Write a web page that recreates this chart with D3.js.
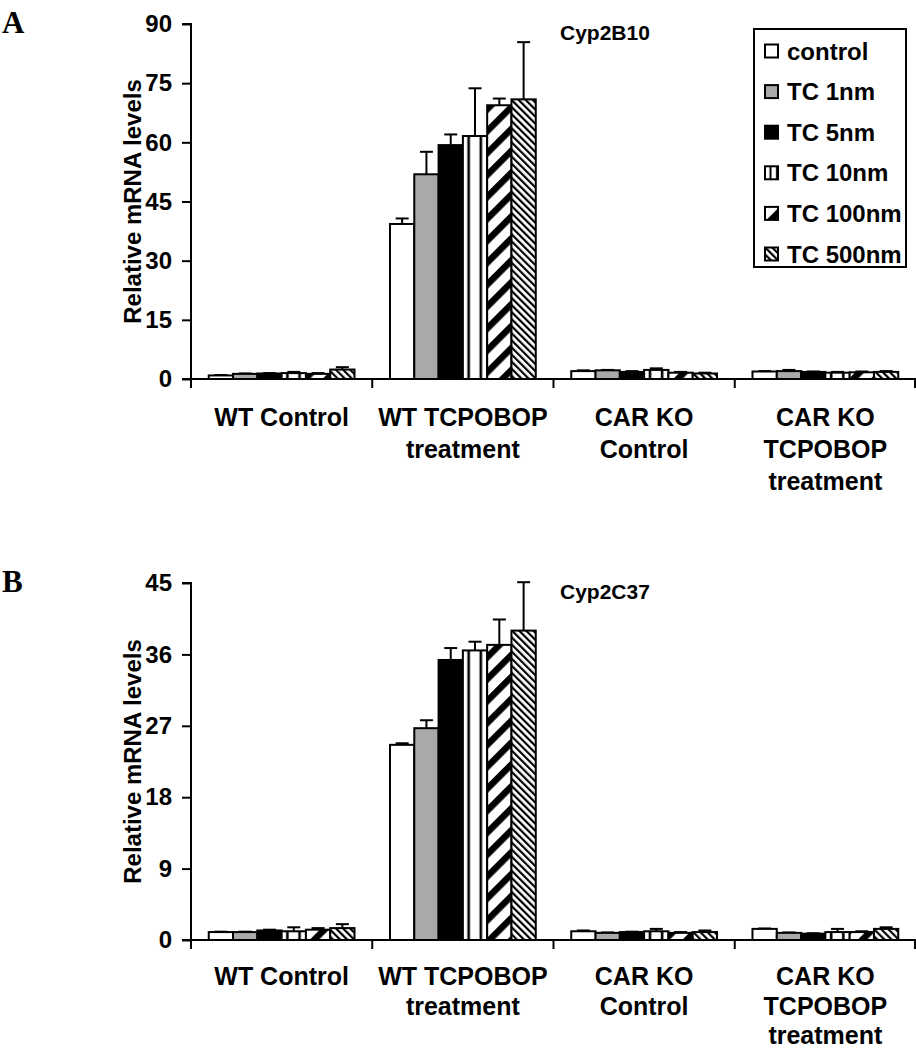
<!DOCTYPE html>
<html><head><meta charset="utf-8">
<script src="https://cdn.jsdelivr.net/npm/d3@7"></script>
<style>
body{margin:0;background:#fff;}
svg text{font-family:"Liberation Sans",Arial,sans-serif;font-weight:bold;fill:#000;}
</style></head>
<body><svg id="c" width="916" height="1050"></svg>
<script>
const categoryLines = [["WT Control"],["WT TCPOBOP","treatment"],["CAR KO","Control"],["CAR KO","TCPOBOP","treatment"]];
const categories = categoryLines.map(d => d.join(" "));
const seriesNames = ["control","TC 1nm","TC 5nm","TC 10nm","TC 100nm","TC 500nm"];

// Panel A: Cyp2B10 (one array per series, values across the 4 categories)
const a_control = [0.9, 39.3, 2.0, 1.9],  a_control_err = [0.1, 1.4, 0.2, 0.1];
const a_tc1     = [1.3, 51.9, 2.2, 2.0],  a_tc1_err     = [0.1, 5.7, 0.1, 0.3];
const a_tc5     = [1.4, 59.3, 1.8, 1.8],  a_tc5_err     = [0.1, 2.7, 0.2, 0.1];
const a_tc10    = [1.5, 61.6, 2.3, 1.6],  a_tc10_err    = [0.3, 12.1, 0.4, 0.2];
const a_tc100   = [1.3, 69.4, 1.6, 1.7],  a_tc100_err   = [0.2, 1.7, 0.2, 0.2];
const a_tc500   = [2.4, 70.9, 1.4, 1.8],  a_tc500_err   = [0.6, 14.5, 0.2, 0.2];
const a_ticks = [0, 15, 30, 45, 60, 75, 90];

// Panel B: Cyp2C37
const b_control = [1.0, 24.6, 1.1, 1.4],  b_control_err = [0.05, 0.2, 0.1, 0.05];
const b_tc1     = [1.0, 26.7, 0.9, 0.9],  b_tc1_err     = [0.05, 1.0, 0.05, 0.05];
const b_tc5     = [1.2, 35.3, 1.0, 0.8],  b_tc5_err     = [0.1, 1.5, 0.05, 0.05];
const b_tc10    = [1.1, 36.5, 1.1, 1.0],  b_tc10_err    = [0.5, 1.1, 0.3, 0.4];
const b_tc100   = [1.3, 37.2, 0.9, 1.0],  b_tc100_err   = [0.2, 3.2, 0.1, 0.1];
const b_tc500   = [1.5, 39.0, 1.0, 1.4],  b_tc500_err   = [0.5, 6.1, 0.2, 0.2];
const b_ticks = [0, 9, 18, 27, 36, 45];

const svg = d3.select("#c");
const defs = svg.append("defs");
// patterns
const pV = defs.append("pattern").attr("id","pVert").attr("patternUnits","objectBoundingBox")
  .attr("width",0.5).attr("height",1);
pV.append("rect").attr("width",40).attr("height",2000).attr("fill","#fff");
pV.append("rect").attr("x",4.5).attr("width",2.6).attr("height",2000).attr("fill","#000");
const pW = defs.append("pattern").attr("id","pWide").attr("patternUnits","userSpaceOnUse")
  .attr("width",15.5).attr("height",15.5).attr("patternTransform","rotate(45)");
pW.append("rect").attr("width",15.5).attr("height",15.5).attr("fill","#fff");
pW.append("rect").attr("width",6.5).attr("height",15.5).attr("fill","#000");
const pD = defs.append("pattern").attr("id","pDense").attr("patternUnits","userSpaceOnUse")
  .attr("width",5).attr("height",5).attr("patternTransform","rotate(-45)");
pD.append("rect").attr("width",5).attr("height",5).attr("fill","#fff");
pD.append("rect").attr("width",2.2).attr("height",5).attr("fill","#000");
const fills = ["#fff","#a9a9a9","#000","url(#pVert)","url(#pWide)","url(#pDense)"];

function panel(cfg){
  const {top, bottom, ticks, series, errs, title, letter, legend, labOff, labStep} = cfg;
  const g = svg.append("g");
  const left = 191, right = 916;
  const y = d3.scaleLinear().domain([0, d3.max(ticks)]).range([bottom, top]);
  const x0 = d3.scaleBand().domain(categories).range([left, right]).padding(0);
  const x1 = d3.scaleBand().domain(seriesNames).range([0, x0.bandwidth()]).paddingInner(0).paddingOuter(0.73);

  // bars
  seriesNames.forEach((s, si) => {
    const vals = series[si], ev = errs[si];
    const data = categories.map((c, ci) => ({c, v: vals[ci], e: ev[ci]}));
    const gg = g.append("g");
    gg.selectAll("line.err").data(data).join("line")
      .attr("x1", d => x0(d.c) + x1(s) + x1.bandwidth()/2)
      .attr("x2", d => x0(d.c) + x1(s) + x1.bandwidth()/2)
      .attr("y1", d => y(d.v)).attr("y2", d => y(d.v + d.e))
      .attr("stroke","#000").attr("stroke-width",2);
    gg.selectAll("line.cap").data(data).join("line")
      .attr("x1", d => x0(d.c) + x1(s) + x1.bandwidth()/2 - 6.5)
      .attr("x2", d => x0(d.c) + x1(s) + x1.bandwidth()/2 + 6.5)
      .attr("y1", d => y(d.v + d.e)).attr("y2", d => y(d.v + d.e))
      .attr("stroke","#000").attr("stroke-width",2);
    gg.selectAll("rect").data(data).join("rect")
      .attr("x", d => x0(d.c) + x1(s))
      .attr("width", x1.bandwidth())
      .attr("y", d => y(d.v))
      .attr("height", d => y(0) - y(d.v))
      .attr("fill", fills[si]).attr("stroke","#000").attr("stroke-width",2);
  });

  // y axis
  const ya = d3.axisLeft(y).tickValues(ticks).tickSize(9).tickPadding(10).tickFormat(d3.format("d"));
  const yg = g.append("g").attr("transform",`translate(${left},0)`).call(ya);
  yg.select(".domain").attr("stroke-width",2).attr("d",`M-9,${top}H0V${bottom}`);
  yg.selectAll(".tick line").attr("stroke-width",2);
  yg.selectAll(".tick text").style("font-size","24px").style("font-family",'"Liberation Sans",Arial,sans-serif').style("font-weight","bold").attr("fill","#000");

  // x axis
  const xa = d3.axisBottom(x0).tickSize(0).tickFormat("");
  const xg = g.append("g").attr("transform",`translate(0,${bottom})`).call(xa);
  xg.select(".domain").attr("stroke-width",2).attr("d",`M${left-9},0H${right}`);
  const bounds = categories.map(c => x0(c)).concat([right - 1]);
  xg.selectAll("line.sep").data(bounds).join("line")
    .attr("x1", d => d).attr("x2", d => d).attr("y1",0).attr("y2",9)
    .attr("stroke","#000").attr("stroke-width",2);
  categories.forEach((c, ci) => {
    const t = g.append("text").attr("text-anchor","middle").style("font-size","25px");
    categoryLines[ci].forEach((ln, li) => {
      t.append("tspan").attr("x", x0(c) + x0.bandwidth()/2).attr("y", bottom + labOff + li*labStep).text(ln);
    });
  });

  // y label
  g.append("text").attr("transform",`translate(141,${(top+bottom)/2}) rotate(-90)`)
    .attr("text-anchor","middle").style("font-size","24px").text("Relative mRNA levels");
  // title
  g.append("text").attr("x",560).attr("y",top+16).style("font-size","21px").text(title);
  // panel letter
  g.append("text").attr("x",2).attr("y",top+9).style("font-family",'"Liberation Serif","Times New Roman",serif')
    .style("font-size","31px").style("font-weight","bold").text(letter);

  if (legend){
    const lg = g.append("g");
    lg.append("rect").attr("x",754).attr("y",29).attr("width",152).attr("height",238)
      .attr("fill","#fff").attr("stroke","#000").attr("stroke-width",2);
    const ly = d3.scalePoint().domain(seriesNames).range([51, 254]);
    seriesNames.forEach((s, si) => {
      lg.append("rect").attr("x",765).attr("y",ly(s)-6.5).attr("width",13).attr("height",13)
        .attr("fill",fills[si]).attr("stroke","#000").attr("stroke-width",2);
      lg.append("text").attr("x",787).attr("y",ly(s)+8.5).style("font-size","24px").text(s);
    });
  }
}

panel({top:24, bottom:379, ticks:a_ticks, title:"Cyp2B10", letter:"A", legend:true, labOff:47, labStep:32,
  series:[a_control,a_tc1,a_tc5,a_tc10,a_tc100,a_tc500],
  errs:[a_control_err,a_tc1_err,a_tc5_err,a_tc10_err,a_tc100_err,a_tc500_err]});
panel({top:583, bottom:940, ticks:b_ticks, title:"Cyp2C37", letter:"B", legend:false, labOff:45, labStep:29.5,
  series:[b_control,b_tc1,b_tc5,b_tc10,b_tc100,b_tc500],
  errs:[b_control_err,b_tc1_err,b_tc5_err,b_tc10_err,b_tc100_err,b_tc500_err]});
</script></body></html>
